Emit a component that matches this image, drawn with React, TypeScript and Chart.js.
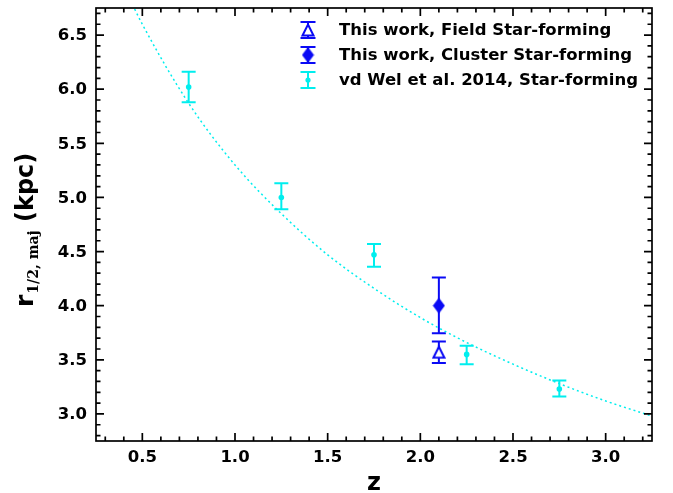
import React, { useEffect, useRef } from "react";
import { Chart, registerables } from "chart.js";

Chart.register(...registerables);

const CYAN = "#00eeee";
const BLUE = "#0a0af5";

// vd Wel et al. 2014, Star-forming
const vdWelZ = [0.75, 1.25, 1.75, 2.25, 2.75];
const vdWelR = [6.02, 5.0, 4.47, 3.55, 3.23];
const vdWelHi = [6.16, 5.13, 4.57, 3.63, 3.31];
const vdWelLo = [5.88, 4.89, 4.36, 3.46, 3.16];

// This work, Field Star-forming
const fieldZ = [2.1];
const fieldR = [3.57];
const fieldHi = [3.67];
const fieldLo = [3.47];

// This work, Cluster Star-forming
const clusterZ = [2.1];
const clusterR = [4.0];
const clusterHi = [4.26];
const clusterLo = [3.745];

// dotted relation
const fitZ = [0.4, 0.5, 0.75, 1.0, 1.25, 1.5, 1.75, 2.0, 2.25, 2.5, 2.75, 3.0, 3.25];
const fitR = [6.95, 6.6, 5.87, 5.3, 4.85, 4.47, 4.16, 3.89, 3.66, 3.46, 3.28, 3.12, 2.98];

const xTicks = [0.5, 1.0, 1.5, 2.0, 2.5, 3.0];
const xTickLabels = ["0.5", "1.0", "1.5", "2.0", "2.5", "3.0"];
const yTicks = [3.0, 3.5, 4.0, 4.5, 5.0, 5.5, 6.0, 6.5];
const yTickLabels = ["3.0", "3.5", "4.0", "4.5", "5.0", "5.5", "6.0", "6.5"];

const legendLabels = [
  "This work, Field Star-forming",
  "This work, Cluster Star-forming",
  "vd Wel et al. 2014, Star-forming",
];

const X_MIN = 0.25, X_MAX = 3.25, Y_MIN = 2.75, Y_MAX = 6.75;

function makeDiamond(): HTMLCanvasElement {
  const c = document.createElement("canvas");
  c.width = 13;
  c.height = 17;
  const g = c.getContext("2d")!;
  g.fillStyle = BLUE;
  g.beginPath();
  g.moveTo(6.5, 0.5);
  g.lineTo(12.5, 8.5);
  g.lineTo(6.5, 16.5);
  g.lineTo(0.5, 8.5);
  g.closePath();
  g.fill();
  return c;
}

function makeTriangle(): HTMLCanvasElement {
  const c = document.createElement("canvas");
  c.width = 14;
  c.height = 14;
  const g = c.getContext("2d")!;
  g.fillStyle = "#ffffff";
  g.strokeStyle = BLUE;
  g.lineWidth = 2;
  g.beginPath();
  g.moveTo(7, 1.5);
  g.lineTo(12.5, 12.5);
  g.lineTo(1.5, 12.5);
  g.closePath();
  g.fill();
  g.stroke();
  return c;
}

function drawErrBar(ctx: CanvasRenderingContext2D, x: number, yTop: number, yBot: number, color: string, cap: number) {
  ctx.save();
  ctx.strokeStyle = color;
  ctx.lineWidth = 2;
  ctx.beginPath();
  ctx.moveTo(x, yTop);
  ctx.lineTo(x, yBot);
  ctx.moveTo(x - cap / 2, yTop);
  ctx.lineTo(x + cap / 2, yTop);
  ctx.moveTo(x - cap / 2, yBot);
  ctx.lineTo(x + cap / 2, yBot);
  ctx.stroke();
  ctx.restore();
}

export default function App() {
  const ref = useRef<HTMLCanvasElement | null>(null);

  useEffect(() => {
    if (!ref.current) return;
    const diamond = makeDiamond();
    const triangle = makeTriangle();

    const errorBars = {
      id: "errorBars",
      beforeDatasetsDraw(chart: any) {
        const ctx = chart.ctx as CanvasRenderingContext2D;
        const xs = chart.scales.x;
        const ys = chart.scales.y;
        const groups = [
          { z: vdWelZ, hi: vdWelHi, lo: vdWelLo, c: CYAN },
          { z: fieldZ, hi: fieldHi, lo: fieldLo, c: BLUE },
          { z: clusterZ, hi: clusterHi, lo: clusterLo, c: BLUE },
        ];
        groups.forEach((g) => {
          g.z.forEach((z, i) => {
            drawErrBar(ctx, xs.getPixelForValue(z), ys.getPixelForValue(g.hi[i]), ys.getPixelForValue(g.lo[i]), g.c, 14);
          });
        });
      },
    };

    const frame = {
      id: "frame",
      afterDraw(chart: any) {
        const ctx = chart.ctx as CanvasRenderingContext2D;
        const a = chart.chartArea;
        const xs = chart.scales.x;
        const ys = chart.scales.y;
        ctx.save();
        ctx.strokeStyle = "#000";
        ctx.lineWidth = 1.7;
        ctx.strokeRect(a.left, a.top, a.right - a.left, a.bottom - a.top);
        ctx.beginPath();
        for (let k = 3; k <= 32; k++) {
          const v = k / 10;
          const px = xs.getPixelForValue(v);
          const major = k % 5 === 0;
          const len = major ? 8 : 4.5;
          ctx.moveTo(px, a.bottom);
          ctx.lineTo(px, a.bottom - len);
          ctx.moveTo(px, a.top);
          ctx.lineTo(px, a.top + len);
        }
        for (let k = 28; k <= 67; k++) {
          const v = k / 10;
          const py = ys.getPixelForValue(v);
          const major = k % 5 === 0;
          const len = major ? 8 : 4.5;
          ctx.moveTo(a.left, py);
          ctx.lineTo(a.left + len, py);
          ctx.moveTo(a.right, py);
          ctx.lineTo(a.right - len, py);
        }
        ctx.stroke();

        ctx.fillStyle = "#000";
        ctx.font = "bold 16.5px 'DejaVu Sans'";
        ctx.textAlign = "center";
        ctx.textBaseline = "middle";
        xTicks.forEach((v, i) => {
          ctx.fillText(xTickLabels[i], xs.getPixelForValue(v), a.bottom + 17);
        });
        ctx.textAlign = "right";
        yTicks.forEach((v, i) => {
          ctx.fillText(yTickLabels[i], a.left - 9, ys.getPixelForValue(v) + 1);
        });

        // x title
        ctx.font = "bold 24px 'DejaVu Sans'";
        ctx.textAlign = "center";
        ctx.textBaseline = "alphabetic";
        ctx.fillText("z", (a.left + a.right) / 2, 490);

        // y title
        ctx.save();
        ctx.translate(33, 307);
        ctx.rotate(-Math.PI / 2);
        ctx.textAlign = "left";
        ctx.textBaseline = "alphabetic";
        ctx.font = "bold 25px 'DejaVu Sans'";
        const wr = ctx.measureText("r").width;
        ctx.fillText("r", 0, 0);
        ctx.font = "bold 14px 'DejaVu Serif'";
        const sub = "1/2, maj";
        const ws = ctx.measureText(sub).width;
        ctx.fillText(sub, wr + 1, 5);
        ctx.font = "bold 24px 'DejaVu Sans'";
        ctx.fillText(" (kpc)", wr + 1 + ws, 0);
        ctx.restore();

        // legend
        const ix = 308;
        const tx = 339;
        const rows = [30, 55, 80];
        drawErrBar(ctx, ix, rows[0] - 8, rows[0] + 8, BLUE, 15);
        ctx.drawImage(triangle, ix - 7, rows[0] - 7);
        drawErrBar(ctx, ix, rows[1] - 8, rows[1] + 8, BLUE, 15);
        ctx.drawImage(diamond, ix - 6.5, rows[1] - 8.5);
        drawErrBar(ctx, ix, rows[2] - 8, rows[2] + 8, CYAN, 15);
        ctx.fillStyle = CYAN;
        ctx.beginPath();
        ctx.arc(ix, rows[2], 2.6, 0, Math.PI * 2);
        ctx.fill();
        ctx.fillStyle = "#000";
        ctx.font = "bold 16.5px 'DejaVu Sans'";
        ctx.textAlign = "left";
        ctx.textBaseline = "middle";
        legendLabels.forEach((t, i) => ctx.fillText(t, tx, rows[i] + 1));
        ctx.restore();
      },
    };

    const chart = new Chart(ref.current, {
      type: "scatter",
      data: {
        datasets: [
          {
            label: legendLabels[1],
            data: clusterZ.map((z, i) => ({ x: z, y: clusterR[i] })),
            pointStyle: diamond as any,
            pointRadius: 7,
            order: 1,
          },
          {
            label: legendLabels[0],
            data: fieldZ.map((z, i) => ({ x: z, y: fieldR[i] })),
            pointStyle: triangle as any,
            pointRadius: 7,
            order: 2,
          },
          {
            label: legendLabels[2],
            data: vdWelZ.map((z, i) => ({ x: z, y: vdWelR[i] })),
            pointStyle: "circle",
            pointRadius: 2.8,
            pointBorderWidth: 0,
            backgroundColor: CYAN,
            borderColor: CYAN,
            order: 3,
          },
          {
            type: "line" as any,
            label: "fit",
            data: fitZ.map((z, i) => ({ x: z, y: fitR[i] })),
            borderColor: CYAN,
            borderWidth: 1.5,
            borderDash: [2, 3],
            pointRadius: 0,
            fill: false,
            cubicInterpolationMode: "monotone",
            showLine: true,
            order: 10,
          } as any,
        ],
      },
      options: {
        responsive: false,
        animation: false,
        devicePixelRatio: 1,
        layout: { padding: { left: 96, top: 8, right: 21, bottom: 52 } },
        plugins: { legend: { display: false }, tooltip: { enabled: false } },
        events: [],
        scales: {
          x: { type: "linear", min: X_MIN, max: X_MAX, display: false },
          y: { type: "linear", min: Y_MIN, max: Y_MAX, display: false },
        },
      },
      plugins: [errorBars, frame],
    });
    return () => chart.destroy();
  }, []);

  return (
    <div style={{ position: "absolute", left: 0, top: 0, width: 673, height: 493, background: "#fff" }}>
      <canvas ref={ref} width={673} height={493} style={{ display: "block" }} />
    </div>
  );
}
